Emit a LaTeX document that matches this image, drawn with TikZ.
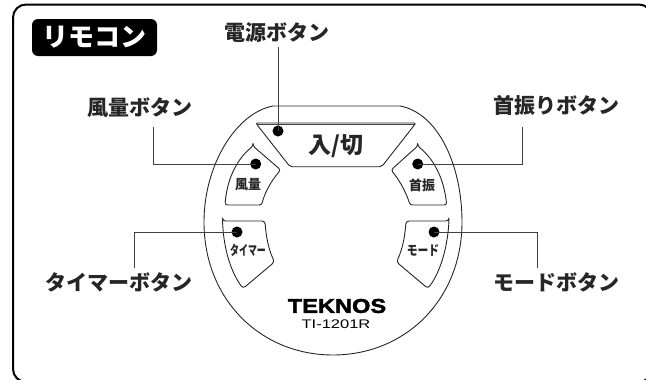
\documentclass[tikz,border=0pt]{standalone}
\usepackage{fontspec}
\usepackage{graphicx}
\newfontfamily\jp{Noto Sans CJK JP}
\newfontfamily\lat{Liberation Sans}
\newfontfamily\logofont{Liberation Sans}[BoldFeatures={FakeBold=2}]
\newcommand{\fs}[1]{\fontsize{#1}{#1}\selectfont}
\tikzset{
  outline/.style={draw=black!85,line width=0.9pt,line join=round},
  callout/.style={inner sep=0pt,font=\jp\bfseries\fs{21},text=black!85},
  btnlabel/.style={inner sep=0pt,font=\jp\bfseries\fs{13.5},text=black!85},
  leader/.style={draw=black!75,line width=0.9pt},
  dotmark/.style={circle,fill=black,inner sep=0pt,minimum size=11pt},
}
\begin{document}
\begin{tikzpicture}[x=1pt,y=-1pt]
\useasboundingbox (0,0) rectangle (646,380);
\clip (0,0) rectangle (646,380);
% frame
\draw[line width=2pt,rounded corners=13pt] (13,4.5) rectangle (652,382);
% badge
\node[fill=black,rounded corners=6pt,minimum width=125pt,minimum height=37pt,inner sep=0pt,text=white,font=\jp\bfseries\fs{26}] (badge) at (94.5,37.5) {リモコン};
% body
\draw[outline] (329,106) arc[start angle=180,end angle=0,radius=7.5];
\draw[outline,fill=white] (273,106) -- (400,106)
  .. controls (438,113) and (462,165) .. (462,222)
  .. controls (462,300) and (405,355) .. (333,355)
  .. controls (261,355) and (204,300) .. (204,222)
  .. controls (204,165) and (236,113) .. (273,106) -- cycle;
% power button
\draw[outline,rounded corners=2pt] (255.7,123) -- (416,123) -- (381.7,166.7) -- (290,166.7) -- cycle;
\draw[black!75,line width=1.2pt] (257,124.5) -- (414.5,124.5);
% wind button
\draw[outline,rounded corners=2.5pt] (253,146) -- (280.7,170)
  .. controls (270,182) and (264,195) .. (261.7,205) -- (225,205)
  .. controls (227,180) and (236,160) .. (253,146) -- cycle;
% swing button
\draw[outline,rounded corners=2.5pt] (417.7,146) -- (391,170)
  .. controls (401,182) and (407,195) .. (410,205) -- (446.7,205)
  .. controls (444,180) and (435,160) .. (417.7,146) -- cycle;
% timer button
\draw[outline,rounded corners=3pt] (222.5,221) -- (265,221)
  .. controls (266,235) and (268,248) .. (274.5,262) -- (243,288.5)
  .. controls (231,272) and (224,250) .. (222.5,221) -- cycle;
% mode button
\draw[outline,rounded corners=3pt] (449,221) -- (406,221)
  .. controls (405,235) and (403,248) .. (396.5,262) -- (428,288.5)
  .. controls (440,272) and (447,250) .. (449,221) -- cycle;
% button labels
\node[inner sep=0pt,font=\jp\bfseries\fs{23},text=black!85] (power) at (336,146) {入/切};
\node[btnlabel] (wind) at (248,185) {\scalebox{0.96}[1]{風量}};
\node[btnlabel] (swing) at (422,185) {\scalebox{0.96}[1]{首振}};
\node[btnlabel] (timer) at (248,250) {\scalebox{0.66}[1]{タイマー}};
\node[btnlabel] (mode) at (423,250) {\scalebox{0.8}[1]{モード}};
% logo
\node[inner sep=0pt,font=\logofont\bfseries\fs{20}] (logo) at (337,306) {\scalebox{1.18}[1]{TEKNOS}};
\node[inner sep=0pt,font=\lat\fs{12.5}] (model) at (336,324) {\scalebox{1.32}[1]{TI-1201R}};
% callouts
\node[callout] (cPower) at (277,33) {電源ボタン};
\node[callout] (cWind) at (140,108) {風量ボタン};
\node[callout] (cSwing) at (556,105) {首振りボタン};
\node[callout] (cTimer) at (119,282) {タイマーボタン};
\node[callout] (cMode) at (556,282) {モードボタン};
% dots
\node[dotmark] (dPower) at (278,131) {};
\node[dotmark] (dWind) at (255.7,164) {};
\node[dotmark] (dSwing) at (417.7,164) {};
\node[dotmark] (dTimer) at (237,232) {};
\node[dotmark] (dMode) at (434,232) {};
% leader ends
\coordinate (ePower) at (278,46.5);
\coordinate (eWind) at (153,127);
\coordinate (eSwing) at (522,127);
\coordinate (eTimer) at (134,268);
\coordinate (eMode) at (537,268);
\draw[leader] (dPower.center) -- (ePower);
\draw[leader] (dWind.center) -| (eWind);
\draw[leader] (dSwing.center) -| (eSwing);
\draw[leader] (dTimer.center) -| (eTimer);
\draw[leader] (dMode.center) -| (eMode);
\end{tikzpicture}
\end{document}
